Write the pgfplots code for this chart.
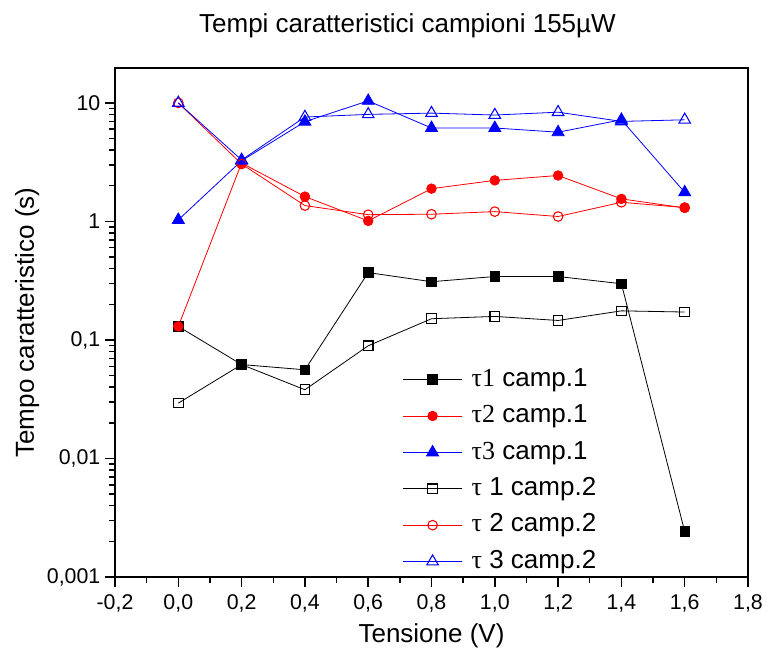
\documentclass[border=0pt]{standalone}
\usepackage{pgfplots}
\pgfplotsset{compat=1.18}
\usepackage{fontspec}
\setmainfont{Liberation Sans}
\newfontfamily\tnr{Liberation Serif}
\definecolor{myred}{RGB}{255,0,0}
\definecolor{myblue}{RGB}{0,0,255}
\begin{document}
\begin{tikzpicture}
\begin{axis}[
  name=ax,
  scale only axis, width=474.75pt, height=381.75pt,
  ymode=log, xmin=-0.2, xmax=1.8, ymin=0.001, ymax=19.7,
  clip=false,
  axis line style={line width=1.2pt},
  tick align=outside, tick pos=left,
  major tick length=7.5pt, minor tick length=4.2pt,
  every tick/.style={black, line width=1.1pt},
  xtick={-0.2,0,0.2,0.4,0.6,0.8,1.0,1.2,1.4,1.6,1.8},
  xticklabels={{-0,2},{0,0},{0,2},{0,4},{0,6},{0,8},{1,0},{1,2},{1,4},{1,6},{1,8}},
  minor xtick={-0.1,0.1,0.3,0.5,0.7,0.9,1.1,1.3,1.5,1.7},
  ytick={0.001,0.01,0.1,1,10},
  yticklabels={{0,001},{0,01},{0,1},{1},{10}},
  minor ytick={0.002,0.003,0.004,0.005,0.006,0.007,0.008,0.009,
               0.02,0.03,0.04,0.05,0.06,0.07,0.08,0.09,
               0.2,0.3,0.4,0.5,0.6,0.7,0.8,0.9,
               2,3,4,5,6,7,8,9},
  tick label style={font=\fontsize{16}{19}\selectfont},
  xticklabel style={yshift=-2pt},
  legend style={at={(0.448,0.4185)}, anchor=north west, draw=none, fill=none,
    font=\fontsize{19.5}{23}\selectfont, row sep=8.3pt, column sep=7pt,
    nodes={inner sep=0pt, text height=14.5pt, text depth=4.5pt}},
  legend cell align=left,
  legend image code/.code={\draw[mark repeat=2,mark phase=2] plot coordinates {(0pt,0pt)(22pt,0pt)(44pt,0pt)};},
]
\addplot[black, line width=0.6pt, mark=square*, mark size=3.6pt, mark options={fill=black, solid}]
  table {
x y
0.0 0.13
0.2 0.062
0.4 0.056
0.6 0.37
0.8 0.31
1.0 0.343
1.2 0.343
1.4 0.298
1.6 0.00242
};
\addlegendentry{{\tnr τ1} camp.1}
\addplot[myred, line width=0.6pt, mark=*, mark size=3.6pt, mark options={fill=myred, solid}]
  table {
x y
0.0 0.13
0.2 3.11
0.4 1.62
0.6 1.01
0.8 1.89
1.0 2.22
1.2 2.44
1.4 1.55
1.6 1.30
};
\addlegendentry{{\tnr τ2} camp.1}
\addplot[myblue, line width=0.6pt, mark=triangle*, mark size=5.2pt, mark options={fill=myblue, solid}]
  table {
x y
0.0 1.03
0.2 3.25
0.4 6.94
0.6 10.4
0.8 6.14
1.0 6.14
1.2 5.66
1.4 7.2
1.6 1.76
};
\addlegendentry{{\tnr τ3} camp.1}
\addplot[black, line width=0.6pt, mark=square, mark size=3.6pt, mark options={fill=white, solid, line width=0.8pt}]
  table {
x y
0.0 0.0293
0.2 0.062
0.4 0.038
0.6 0.0893
0.8 0.151
1.0 0.158
1.2 0.146
1.4 0.176
1.6 0.172
};
\addlegendentry{{\tnr τ} 1 camp.2}
\addplot[myred, line width=0.6pt, mark=o, mark size=3.6pt, mark options={fill=white, solid, line width=0.8pt}]
  table {
x y
0.0 10.0
0.2 3.05
0.4 1.36
0.6 1.14
0.8 1.15
1.0 1.21
1.2 1.10
1.4 1.45
1.6 1.31
};
\addlegendentry{{\tnr τ} 2 camp.2}
\addplot[myblue, line width=0.6pt, mark=triangle, mark size=5pt, mark options={fill=white, solid, line width=0.8pt}]
  table {
x y
0.0 10.0
0.2 3.3
0.4 7.6
0.6 8.0
0.8 8.2
1.0 7.9
1.2 8.35
1.4 6.98
1.6 7.2
};
\addlegendentry{{\tnr τ} 3 camp.2}
\node[anchor=base, inner sep=0pt, font=\fontsize{19.5}{23}\selectfont]
  at ([yshift=26.8pt]rel axis cs:0.462,1) {Tempi caratteristici campioni 155µW};
\node[anchor=base, inner sep=0pt, font=\fontsize{19.5}{23}\selectfont]
  at ([yshift=-49.5pt]rel axis cs:0.5,0) {Tensione (V)};
\node[anchor=base, rotate=90, inner sep=0pt, font=\fontsize{19.5}{23}\selectfont]
  at ([xshift=-60.75pt]rel axis cs:0,0.5) {Tempo caratteristico (s)};
\end{axis}
\pgfresetboundingbox
\path[use as bounding box] ([xshift=-86.25pt,yshift=-60.75pt]ax.south west) rectangle ([xshift=14.25pt,yshift=51pt]ax.north east);
\end{tikzpicture}
\end{document}
